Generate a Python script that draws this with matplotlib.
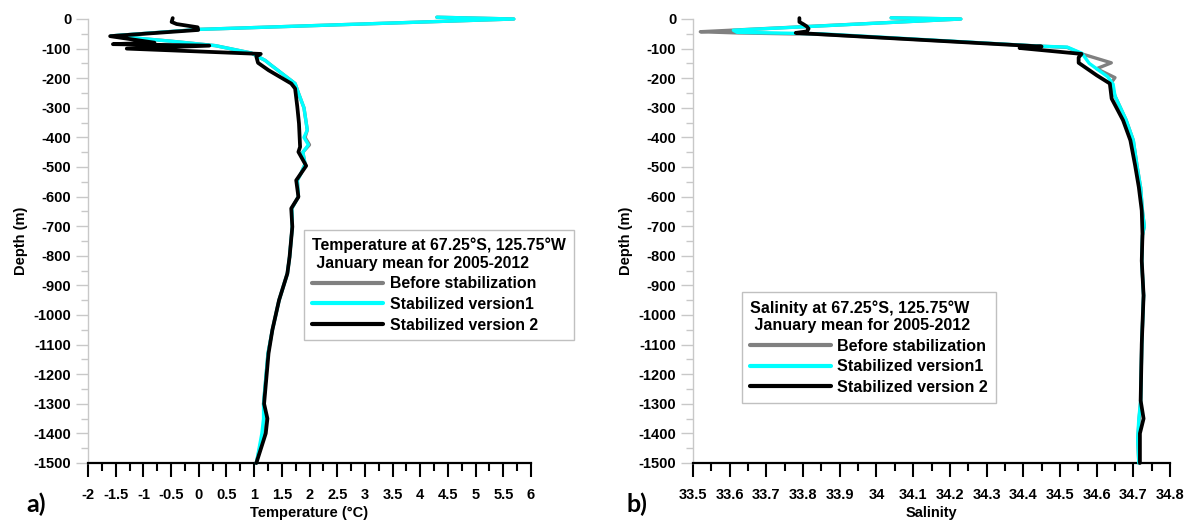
import matplotlib
matplotlib.use("Agg")
import matplotlib.pyplot as plt
from matplotlib.ticker import MultipleLocator, FuncFormatter

plt.rcParams['font.family'] = ['Liberation Sans', 'DejaVu Sans']
plt.rcParams['font.weight'] = 'bold'
plt.rcParams['axes.unicode_minus'] = False

# ---------------- Temperature data ----------------
t_before_depth = [6, 0, -35, -57, -75, -90, -115, -140, -155, -218, -250, -300, -375, -400,
                  -425, -450, -490, -520, -545, -600, -640, -700, -804, -860, -950, -1050,
                  -1130, -1300, -1350, -1400, -1500]
t_before_temp = [4.3, 5.69, 0.02, -1.58, -0.5, 0.3, 0.95, 1.2, 1.3, 1.74, 1.80, 1.90, 1.96, 1.92,
                 2.00, 1.88, 1.92, 1.85, 1.78, 1.80, 1.68, 1.69, 1.64, 1.60, 1.45, 1.33,
                 1.25, 1.17, 1.19, 1.16, 1.04]

t_v1_depth = [6, 0, -35, -57, -75, -90, -115, -140, -155, -218, -250, -300, -375, -400,
              -425, -450, -490, -520, -545, -600, -640, -700, -804, -860, -950, -1050,
              -1130, -1300, -1350, -1400, -1500]
t_v1_temp = [4.3, 5.69, 0.02, -1.58, -0.5, 0.3, 0.95, 1.2, 1.3, 1.74, 1.80, 1.90, 1.96, 1.90,
             1.98, 1.88, 1.92, 1.85, 1.78, 1.80, 1.68, 1.69, 1.64, 1.60, 1.45, 1.33,
             1.25, 1.17, 1.17, 1.14, 1.04]

t_v2_depth = [3, -10, -17, -28, -37, -58, -80, -85, -90, -100, -118, -127, -148, -173,
              -218, -235, -297, -353, -432, -449, -496, -545, -601, -640, -702, -804,
              -860, -950, -1050, -1130, -1300, -1350, -1400, -1500]
t_v2_temp = [-0.47, -0.49, -0.40, -0.02, -0.01, -1.6, -0.8, -1.55, 0.19, -1.3, 1.12, 1.04, 1.07, 1.26,
             1.67, 1.74, 1.78, 1.81, 1.83, 1.80, 1.94, 1.76, 1.80, 1.67, 1.69, 1.64,
             1.60, 1.45, 1.33, 1.26, 1.18, 1.24, 1.21, 1.04]

# ---------------- Salinity data ----------------
s_before_depth = [4, 0, -43, -47, -52, -92, -96, -118, -148, -168, -198, -215, -260, -340,
                  -410, -495, -570, -650, -700, -730, -820, -934, -1100, -1290, -1350, -1420, -1500]
s_before_sal = [34.04, 34.23, 33.52, 33.62, 33.85, 34.45, 34.52, 34.56, 34.64, 34.60, 34.65, 34.64,
                34.65, 34.68, 34.70, 34.71, 34.72, 34.725, 34.73, 34.725, 34.723, 34.728, 34.723,
                34.72, 34.716, 34.712, 34.715]

s_v1_depth = [4, 0, -38, -45, -50, -92, -95, -116, -150, -195, -220, -260, -340, -410,
              -495, -570, -650, -700, -730, -820, -934, -1100, -1290, -1350, -1420, -1500]
s_v1_sal = [34.04, 34.23, 33.61, 33.62, 33.85, 34.45, 34.52, 34.56, 34.58, 34.63, 34.645, 34.65,
            34.68, 34.70, 34.71, 34.72, 34.725, 34.73, 34.725, 34.723, 34.728, 34.723, 34.72,
            34.715, 34.712, 34.715]

s_v2_depth = [3, -10, -17, -25, -33, -42, -47, -93, -98, -118, -130, -148, -190, -218, -269,
              -342, -410, -495, -568, -647, -727, -817, -934, -1098, -1289, -1350, -1400, -1500]
s_v2_sal = [33.79, 33.79, 33.80, 33.81, 33.815, 33.81, 33.78, 34.45, 34.39, 34.559, 34.551, 34.551,
            34.60, 34.636, 34.641, 34.672, 34.692, 34.705, 34.715, 34.723, 34.725, 34.723,
            34.728, 34.723, 34.72, 34.728, 34.718, 34.718]

labels = ["Before stabilization", "Stabilized version1", "Stabilized version 2"]
colors = ["#808080", "#00FFFF", "#000000"]

W, H = 1189, 520
fig = plt.figure(figsize=(W / 100, H / 100), dpi=100)

def px_axes(l, r, t, b):
    return fig.add_axes([l / W, 1 - b / H, (r - l) / W, (b - t) / H])

axT = px_axes(88, 531, 19, 463)
axS = px_axes(693, 1170, 19, 463)

def style(ax, xmin, xmax, xmaj, xmin_step, fmt):
    ax.set_xlim(xmin, xmax)
    ax.set_ylim(-1500, 0)
    for s in ['top', 'right']:
        ax.spines[s].set_visible(False)
    ax.spines['left'].set_color('#c8c8c8')
    ax.spines['left'].set_linewidth(1.0)
    ax.spines['bottom'].set_color('black')
    ax.spines['bottom'].set_linewidth(1.6)
    ax.xaxis.set_major_locator(MultipleLocator(xmaj))
    ax.xaxis.set_minor_locator(MultipleLocator(xmin_step))
    ax.xaxis.set_major_formatter(FuncFormatter(fmt))
    ax.yaxis.set_major_locator(MultipleLocator(100))
    ax.yaxis.set_minor_locator(MultipleLocator(50))
    ax.yaxis.set_major_formatter(FuncFormatter(lambda v, p: '%d' % round(v)))
    ax.tick_params(axis='x', which='major', direction='out', length=10, width=1.5,
                   color='black', pad=8, labelsize=10.5)
    ax.tick_params(axis='x', which='minor', direction='out', length=6, width=1.5, color='black')
    ax.tick_params(axis='y', which='major', direction='out', length=9, width=1,
                   color='#c8c8c8', pad=3, labelsize=10.5)
    ax.tick_params(axis='y', which='minor', direction='out', length=5, width=1, color='#c8c8c8')
    for lab in ax.get_xticklabels() + ax.get_yticklabels():
        lab.set_fontweight('bold')
    ax.set_ylabel('Depth (m)', fontsize=10.5, fontweight='bold', labelpad=4)

def fmt_t(v, p):
    return '%g' % round(v, 2)

def fmt_s(v, p):
    s = '%.1f' % v
    if s.endswith('.0'):
        s = s[:-2]
    return s

style(axT, -2, 6, 0.5, 0.25, fmt_t)
style(axS, 33.5, 34.8, 0.1, 0.05, fmt_s)
axT.set_xlabel('Temperature (°C)', fontsize=10.5, fontweight='bold', labelpad=3)
axS.set_xlabel('Salinity', fontsize=10.5, fontweight='bold', labelpad=3)

lw = [2.4, 2.4, 2.7]
hT = []
for (x, y), c, w, lab, z in zip([(t_before_temp, t_before_depth), (t_v1_temp, t_v1_depth),
                                 (t_v2_temp, t_v2_depth)], colors, lw, labels, [2, 3, 4]):
    ln, = axT.plot(x, y, color=c, lw=w, label=lab, zorder=z, clip_on=False,
                   solid_joinstyle='round', solid_capstyle='round')
    hT.append(ln)
hS = []
for (x, y), c, w, lab, z in zip([(s_before_sal, s_before_depth), (s_v1_sal, s_v1_depth),
                                 (s_v2_sal, s_v2_depth)], colors, lw, labels, [2, 3, 4]):
    ln, = axS.plot(x, y, color=c, lw=w, label=lab, zorder=z, clip_on=False,
                   solid_joinstyle='round', solid_capstyle='round')
    hS.append(ln)

def add_legend(ax, handles, title, x0, y0, size, hl):
    leg = ax.legend(handles=handles, labels=labels, title=title,
                    loc='upper left', bbox_to_anchor=(x0 / W, 1 - y0 / H),
                    bbox_transform=fig.transFigure, borderaxespad=0,
                    prop={'weight': 'bold', 'size': size},
                    title_fontproperties={'weight': 'bold', 'size': size},
                    alignment='left', handlelength=hl, handletextpad=0.4,
                    labelspacing=0.35, borderpad=0.5, fancybox=False, framealpha=1,
                    edgecolor='#c0c0c0')
    leg.get_frame().set_linewidth(1.0)
    for l in leg.get_lines():
        l.set_linewidth(3.0)
    leg.set_zorder(10)
    return leg

add_legend(axT, hT, "Temperature at 67.25°S, 125.75°W\n January mean for 2005-2012", 304, 230, 11.4, 4.5)
add_legend(axS, hS, "Salinity at 67.25°S, 125.75°W\n January mean for 2005-2012", 742, 292, 11.6, 5.0)

fig.text(26 / W, 1 - 504 / H, 'a)', fontsize=18, fontweight='bold',
         family=['Lato', 'DejaVu Sans'], va='center', ha='left')
fig.text(626 / W, 1 - 504 / H, 'b)', fontsize=18, fontweight='bold',
         family=['Lato', 'DejaVu Sans'], va='center', ha='left')

fig.savefig('out.png', dpi=100)
